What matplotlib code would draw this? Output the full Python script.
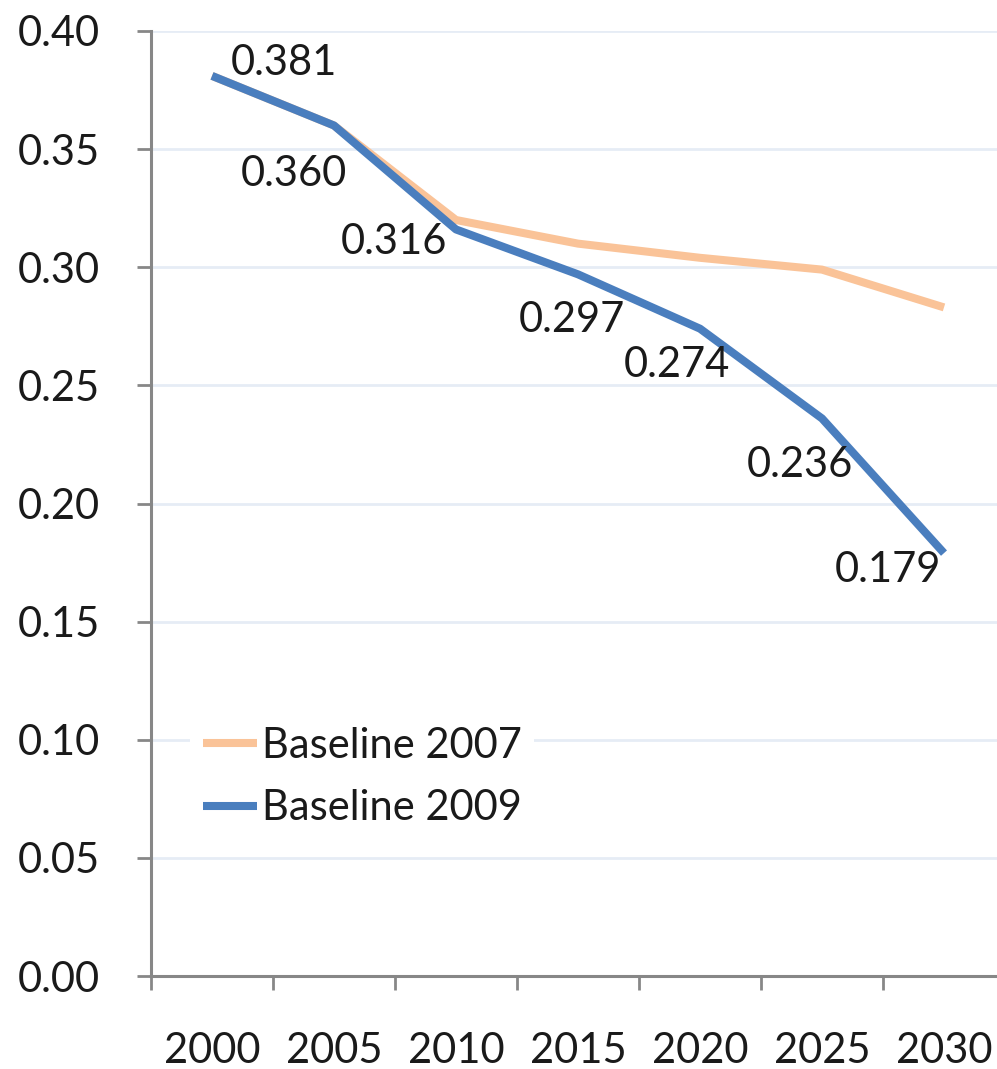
import matplotlib
matplotlib.use("Agg")
import matplotlib.pyplot as plt
from matplotlib.ticker import MultipleLocator, FixedLocator

years = ["2000", "2005", "2010", "2015", "2020", "2025", "2030"]
baseline_2007 = [0.381, 0.360, 0.320, 0.310, 0.304, 0.299, 0.283]
baseline_2009 = [0.381, 0.360, 0.316, 0.297, 0.274, 0.236, 0.179]
label_offsets = [(72, 13), (-40, -49), (-62, -13), (-6, -46), (-23, -36), (-22, -47), (-56, -17)]

plt.rcParams['font.family'] = ['Lato', 'DejaVu Sans']

W, H = 997, 1069
fig = plt.figure(figsize=(W / 100, H / 100), dpi=100)
left, right, bottom, top = 151, 1005, 976, 31
ax = fig.add_axes([left / W, (H - bottom) / H, (right - left) / W, (bottom - top) / H])

x = list(range(len(years)))
c07 = "#FAC398"
c09 = "#4A7EBE"
ax.plot(x, baseline_2007, color=c07, lw=5.8, solid_capstyle='butt', solid_joinstyle='round', label="Baseline 2007", zorder=3)
ax.plot(x, baseline_2009, color=c09, lw=5.8, solid_capstyle='butt', solid_joinstyle='round', label="Baseline 2009", zorder=4)

FS = 30
for xi, v, (dx, dy) in zip(x, baseline_2009, label_offsets):
    ax.annotate(f"{v:.3f}", (xi, v), xytext=(dx, dy), textcoords='offset pixels',
                ha='center', va='center', fontsize=FS, color='#1a1a1a', zorder=5)

ax.set_ylim(0, 0.40)
ax.set_xlim(-0.5, 6.5)
ax.yaxis.set_major_locator(MultipleLocator(0.05))
ax.yaxis.set_major_formatter(matplotlib.ticker.FormatStrFormatter('%.2f'))
ax.grid(axis='y', color='#E6ECF5', lw=2, zorder=0)
ax.set_axisbelow(True)

ax.set_xticks(x)
ax.set_xticklabels(years)
ax.xaxis.set_minor_locator(FixedLocator([i - 0.5 for i in range(len(years) + 1)]))
ax.tick_params(axis='x', which='major', length=0, pad=40, labelsize=FS, labelcolor='#1a1a1a')
ax.tick_params(axis='x', which='minor', length=10, width=2, color='#878787', direction='out')
ax.tick_params(axis='y', which='major', length=10, width=2, color='#878787', pad=27, labelsize=FS, labelcolor='#1a1a1a')

for s in ['top', 'right']:
    ax.spines[s].set_visible(False)
for s in ['left', 'bottom']:
    ax.spines[s].set_color('#878787')
    ax.spines[s].set_linewidth(2.2)

leg = ax.legend(loc='upper left', bbox_to_anchor=(190 / W, (H - 714) / H), bbox_transform=fig.transFigure,
                fontsize=FS, frameon=True, fancybox=False, framealpha=1, edgecolor='white',
                handlelength=1.3, handletextpad=0.12, labelspacing=0.6, borderpad=0.3, borderaxespad=0)
leg.get_frame().set_linewidth(0)
for t in leg.get_texts():
    t.set_color('#1a1a1a')

fig.savefig("out.png", dpi=100)
